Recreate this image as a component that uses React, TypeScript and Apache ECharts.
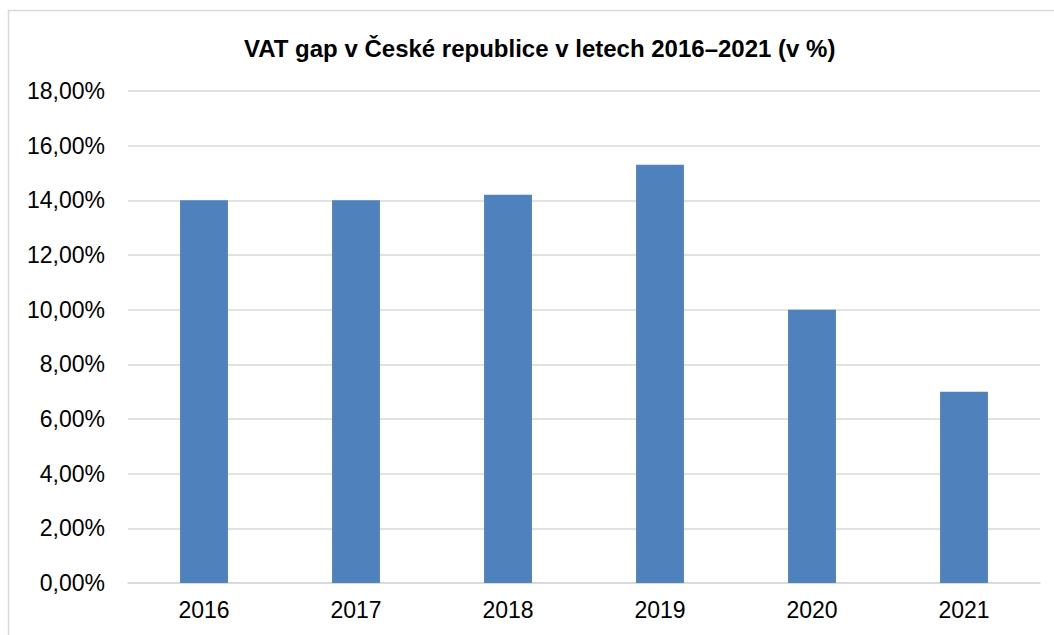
import React, { useEffect, useRef } from "react";
import * as echarts from "echarts";

const categories = ["2016", "2017", "2018", "2019", "2020", "2021"];
const vatGap = [14.0, 14.0, 14.2, 15.3, 10.0, 7.0];
const titleText = "VAT gap v České republice v letech 2016–2021 (v %)";

export default function App() {
  const ref = useRef<HTMLDivElement>(null);
  useEffect(() => {
    if (!ref.current) return;
    const chart = echarts.init(ref.current, null, { renderer: "svg" });
    chart.setOption({
      animation: false,
      backgroundColor: "#ffffff",
      title: {
        text: titleText,
        left: 239,
        top: 31,
        textStyle: {
          fontFamily: "Liberation Sans, Arial, sans-serif",
          fontSize: 24,
          fontWeight: "bold",
          color: "#000000",
        },
      },
      graphic: [
        {
          type: "rect",
          shape: { x: 8.5, y: 10.5, width: 1200, height: 800 },
          style: { fill: "none", stroke: "#d9d9d9", lineWidth: 1.5 },
          silent: true,
        },
      ],
      grid: { left: 128, right: 14, top: 91, bottom: 52, containLabel: false },
      xAxis: {
        type: "category",
        data: categories,
        axisLine: { show: true, lineStyle: { color: "#d9d9d9", width: 1.5 } },
        axisTick: { show: false },
        axisLabel: {
          color: "#000000",
          fontFamily: "Liberation Sans, Arial, sans-serif",
          fontSize: 23,
          margin: 15,
        },
      },
      yAxis: {
        type: "value",
        min: 0,
        max: 18,
        interval: 2,
        axisLine: { show: false },
        axisTick: { show: false },
        splitLine: { lineStyle: { color: "#d9d9d9", width: 1.5 } },
        axisLabel: {
          color: "#000000",
          fontFamily: "Liberation Sans, Arial, sans-serif",
          fontSize: 23,
          margin: 23,
          formatter: (v: number) => v.toFixed(2).replace(".", ",") + "%",
        },
      },
      series: [
        {
          type: "bar",
          data: vatGap,
          barWidth: "31.5%",
          itemStyle: { color: "#4f81bd" },
        },
      ],
    });
    return () => chart.dispose();
  }, []);
  return (
    <div
      ref={ref}
      style={{ position: "absolute", left: 0, top: 0, width: 1054, height: 635 }}
    />
  );
}
